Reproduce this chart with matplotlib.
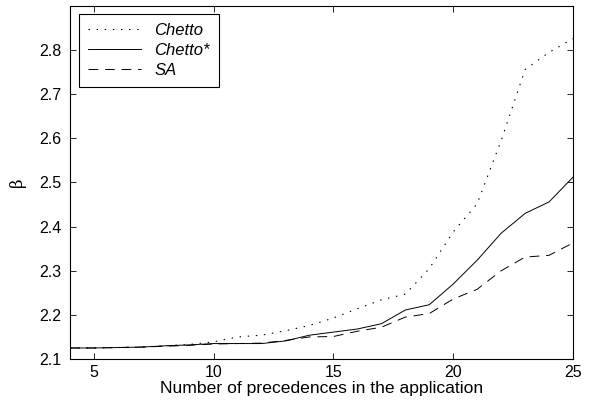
import matplotlib
matplotlib.use("Agg")
import matplotlib.pyplot as plt

plt.rcParams['font.family'] = ['Liberation Sans', 'DejaVu Sans']

x = list(range(4, 26))
chetto = [2.125, 2.125, 2.126, 2.127, 2.130, 2.133, 2.139, 2.150, 2.154, 2.164, 2.176,
          2.193, 2.214, 2.234, 2.247, 2.305, 2.388, 2.452, 2.595, 2.756, 2.795, 2.826]
chetto_star = [2.125, 2.125, 2.126, 2.127, 2.130, 2.132, 2.135, 2.135, 2.135, 2.141, 2.154,
               2.161, 2.168, 2.180, 2.211, 2.223, 2.270, 2.324, 2.385, 2.430, 2.456, 2.512]
sa = [2.125, 2.125, 2.126, 2.127, 2.129, 2.131, 2.134, 2.135, 2.136, 2.142, 2.150,
      2.151, 2.163, 2.172, 2.195, 2.203, 2.236, 2.258, 2.300, 2.331, 2.335, 2.363]
labels = ['Chetto', 'Chetto*', 'SA']

fig = plt.figure(figsize=(5.92, 4.07), dpi=100)
ax = fig.add_axes([70/592, 1-359/407, 503/592, 353/407])

ax.plot(x, chetto, color='black', lw=0.8, linestyle=(0, (1.3, 6)), label=labels[0])
ax.plot(x, chetto_star, color='black', lw=0.7, label=labels[1])
ax.plot(x, sa, color='black', lw=0.7, linestyle=(0, (10, 7)), label=labels[2])

ax.set_xlim(4, 25)
ax.set_ylim(2.1, 2.9)
ax.set_xticks([5, 10, 15, 20, 25])
ax.set_yticks([2.1, 2.2, 2.3, 2.4, 2.5, 2.6, 2.7, 2.8])
ax.tick_params(direction='in', top=True, right=True, labelsize=11.5, length=4, width=0.6, pad=4)
ax.tick_params(axis='y', pad=6)
for s in ax.spines.values():
    s.set_linewidth(0.8)

ax.set_xlabel('Number of precedences in the application', fontsize=12.6, labelpad=1)
ax.set_ylabel('β', fontsize=12, labelpad=10, family='DejaVu Serif')

leg = ax.legend(loc='upper left', bbox_to_anchor=(0.017, 0.977), fancybox=False,
                edgecolor='black', framealpha=1, borderaxespad=0, handlelength=3.2,
                prop={'style': 'italic', 'size': 12}, borderpad=0.55, labelspacing=0.3,
                handletextpad=0.8)
leg.get_frame().set_linewidth(0.8)

fig.savefig('out.png', dpi=100)
